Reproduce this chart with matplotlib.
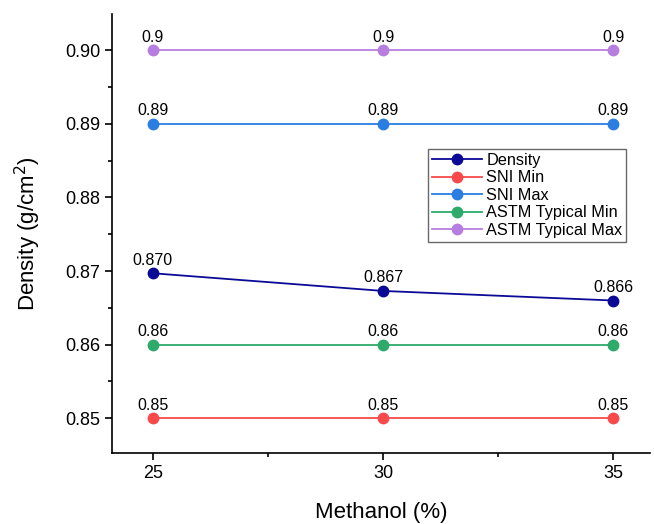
import matplotlib
matplotlib.use('Agg')
import matplotlib.pyplot as plt

plt.rcParams['font.family'] = ['Liberation Sans', 'DejaVu Sans']

methanol = [25, 30, 35]
density = [0.8697, 0.8673, 0.8660]
density_labels = ["0.870", "0.867", "0.866"]
sni_min = [0.85, 0.85, 0.85]
sni_max = [0.89, 0.89, 0.89]
astm_min = [0.86, 0.86, 0.86]
astm_max = [0.90, 0.90, 0.90]

series = [
    ("Density", density, "#0a0a96", density_labels),
    ("SNI Min", sni_min, "#f84a4a", ["0.85"] * 3),
    ("SNI Max", sni_max, "#2a7de1", ["0.89"] * 3),
    ("ASTM Typical Min", astm_min, "#2eaa6a", ["0.86"] * 3),
    ("ASTM Typical Max", astm_max, "#b77ee0", ["0.9"] * 3),
]

fig = plt.figure(figsize=(6.54, 5.24), dpi=100)
ax = fig.add_axes([0.171, 0.135, 0.823, 0.838])

for name, vals, color, labs in series:
    ax.plot(methanol, vals, '-o', color=color, lw=1.3, ms=7.5, label=name)
    for x, y, t in zip(methanol, vals, labs):
        ax.annotate(t, (x, y), xytext=(0, 4), textcoords='offset points',
                    ha='center', va='bottom', fontsize=11.5)

ax.set_xlim(24.11, 35.8)
ax.set_ylim(0.84525, 0.9049)
ax.set_xticks([25, 30, 35])
ax.set_xticks([27.5, 32.5], minor=True)
ax.set_yticks([0.85, 0.86, 0.87, 0.88, 0.89, 0.90])
ax.set_yticklabels(["0.85", "0.86", "0.87", "0.88", "0.89", "0.90"])
ax.set_yticks([0.855, 0.865, 0.875, 0.885, 0.895], minor=True)
ax.tick_params(axis='both', which='major', labelsize=13, length=5, width=1.2)
ax.tick_params(axis='both', which='minor', length=3, width=1.2)
for s in ['top', 'right']:
    ax.spines[s].set_visible(False)
for s in ['left', 'bottom']:
    ax.spines[s].set_linewidth(1.2)

ax.set_xlabel("Methanol (%)", fontsize=16, labelpad=14)
ax.set_ylabel("Density (g/cm$^2$)", fontsize=16, labelpad=16)

ax.legend(loc='upper left', bbox_to_anchor=(0.654, 0.716),
          bbox_transform=fig.transFigure, fontsize=11.7,
          frameon=True, fancybox=False, edgecolor='#444444',
          handlelength=3.1, borderpad=0.25, labelspacing=0.15,
          handletextpad=0.25, borderaxespad=0)

plt.savefig("out.png", dpi=100)
